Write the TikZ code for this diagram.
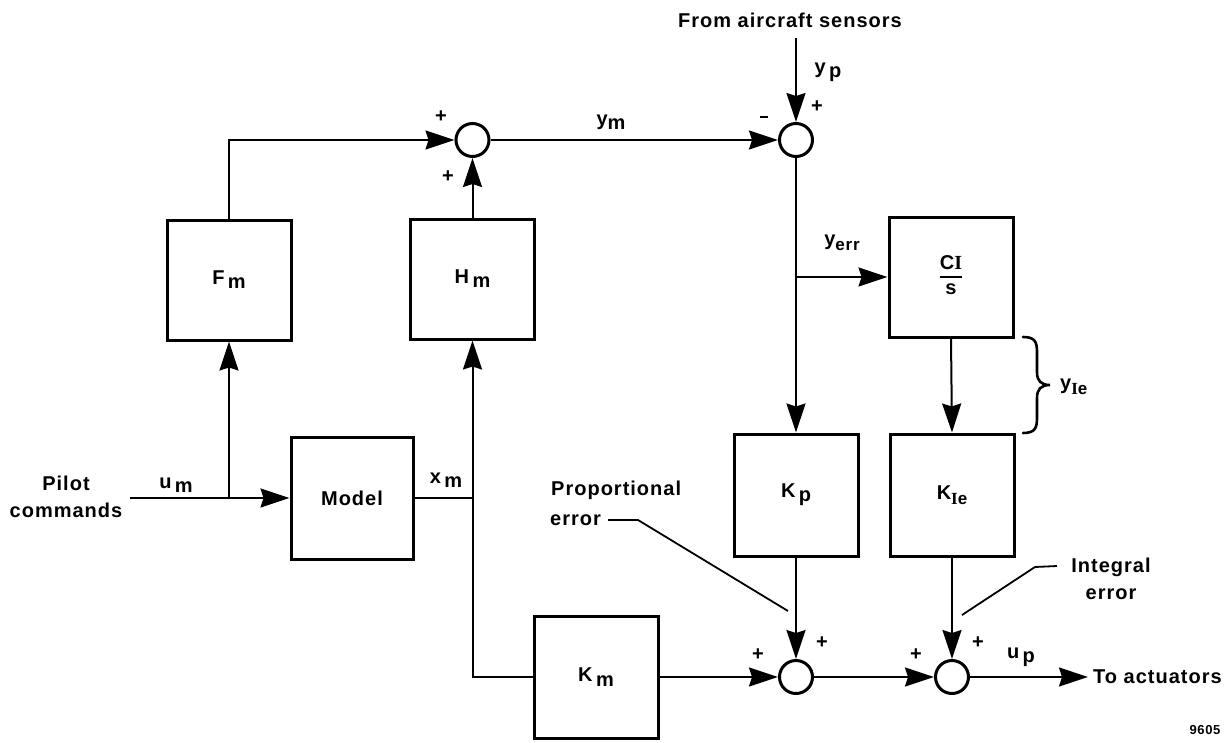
\documentclass[tikz,border=0pt]{standalone}
\usepackage{fontspec}
\setmainfont{Liberation Sans}[LetterSpace=5]
\newfontfamily\serI{Liberation Serif}
\usetikzlibrary{arrows.meta}
\newcommand\sbs[1]{\raisebox{-0.4ex}{#1}}
\newcommand\smsbs[1]{\raisebox{-0.45ex}{\fontsize{17}{19}\selectfont #1}}
\newcommand\Ie{{\serI\bfseries I}e}
\setlength\arrayrulewidth{2pt}
\begin{document}
\begin{tikzpicture}[x=1pt,y=-1pt,
  every node/.style={font=\fontsize{20}{23}\selectfont\bfseries},
  blk/.style={draw,line width=3pt,minimum width=124pt,minimum height=120pt,inner sep=0pt},
  sumc/.style={draw,circle,line width=3pt,minimum size=33pt,inner sep=0pt},
  wire/.style={line width=2pt},
  thinw/.style={line width=1.8pt},
  arr/.style={wire,-{Stealth[length=29pt,width=19pt,inset=3pt]}},
  sgn/.style={font=\fontsize{20}{22}\selectfont\bfseries,inner sep=0pt},
  lbl/.style={inner sep=0pt},
  two/.style={inner sep=0pt,align=center,font=\fontsize{20}{27}\selectfont\bfseries}]
\useasboundingbox (0,0) rectangle (1232,742);

% blocks
\node[blk] (Fm) at (229,280) {F\,\sbs{m}};
\node[blk] (Hm) at (472.5,279) {H\,\sbs{m}};
\node[blk,minimum width=122pt,minimum height=122pt] (Model) at (352,498) {Model};
\node[blk] (CI) at (951,277) {\begin{tabular}{@{}c@{}}C{\serI\bfseries I}\\\hline\rule{0pt}{16pt}s\end{tabular}};
\node[blk,minimum height=122pt] (Kp) at (796,495) {K\,\sbs{p}};
\node[blk,minimum height=122pt] (KIe) at (952,495) {K\smsbs{\Ie}};
\node[blk,minimum height=122pt] (Km) at (596,677) {K\,\sbs{m}};

% summing junctions
\node[sumc] (s1) at (472.5,140) {};
\node[sumc] (s2) at (796,140) {};
\node[sumc] (s3) at (796,677) {};
\node[sumc] (s4) at (952,677) {};

% coordinates
\coordinate (in) at (130,498);
\coordinate (b1) at (229,498);
\coordinate (b2) at (472.5,498);
\coordinate (b3) at (796,277);
\coordinate (src) at (796,38);
\coordinate (out) at (1088,677);

% connectors
\draw[arr] (in) -- (Model.west);
\draw[arr] (b1) -- (Fm.south);
\draw[arr] (Fm.north) |- (s1.west);
\draw[wire] (Model.east) -- (b2);
\draw[arr] (b2) -- (Hm.south);
\draw[wire] (b2) |- (Km.west);
\draw[arr] (Hm.north) -- (s1.south);
\draw[arr] (s1.east) -- (s2.west);
\draw[arr] (src) -- (s2.north);
\draw[arr] (s2.south) -- (Kp.north);
\draw[arr] (b3) -- (CI.west);
\draw[arr] (CI.south) -- (KIe.north);
\draw[arr] (Kp.south) -- (s3.north);
\draw[arr] (KIe.south) -- (s4.north);
\draw[arr] (Km.east) -- (s3.west);
\draw[arr] (s3.east) -- (s4.west);
\draw[arr] (s4.east) -- (out);

% brace
\draw[line width=2.6pt,line cap=round]
  (1023,337) .. controls (1035,337) and (1037,342) .. (1037,352)
  -- (1037,372) .. controls (1037,381) and (1041,385) .. (1050,385)
  .. controls (1041,385) and (1037,389) .. (1037,398)
  -- (1037,418) .. controls (1037,428) and (1035,433) .. (1023,433);

% labels
\node[lbl] (tsrc) at (790,20) {From aircraft sensors};
\node[lbl] (lyp) at (828,72) {y\,\sbs{p}};
\node[sgn] (pl2) at (817,107) {+};
\node[lbl] (mi2) at (764,117) {\rule{8pt}{1.8pt}};
\node[sgn] (pl1a) at (441,117) {+};
\node[sgn] (pl1b) at (448,177) {+};
\node[lbl] (lym) at (611,122) {y\sbs{m}};
\node[lbl] (lyerr) at (842,243) {y\smsbs{err}};
\node[lbl,anchor=west] (lyIe) at (1060,387) {y\smsbs{\Ie}};
\node[lbl] (lum) at (176,485) {u\,\sbs{m}};
\node[lbl] (lxm) at (446,480) {x\,\sbs{m}};
\node[lbl] (lup) at (1021,657) {u\,\sbs{p}};
\node[lbl,anchor=west] (tout) at (1093,677) {To actuators};
\node[two] (tpilot) at (66,497) {Pilot\\commands};
\node[lbl,anchor=west] (tprop) at (551,490) {Proportional};
\node[lbl,anchor=west] (terr) at (550,520) {error};
\node[two] (tint) at (1111,579) {Integral\\error};
\node[sgn] (pl3a) at (758,655) {+};
\node[sgn] (pl3b) at (822,643) {+};
\node[sgn] (pl4a) at (916,655) {+};
\node[sgn] (pl4b) at (978,643) {+};
\node[lbl,font=\fontsize{13}{15}\selectfont\bfseries] (tnum) at (1205,730) {9605};

% pointer lines
\coordinate (pp1) at (608,520);
\coordinate (pp2) at (638,520);
\coordinate (pp3) at (788,611);
\draw[thinw] (pp1) -- (pp2) -- (pp3);
\coordinate (ip1) at (1057,566);
\coordinate (ip2) at (1035,567);
\coordinate (ip3) at (962,615);
\draw[thinw] (ip1) -- (ip2) -- (ip3);
\end{tikzpicture}
\end{document}
